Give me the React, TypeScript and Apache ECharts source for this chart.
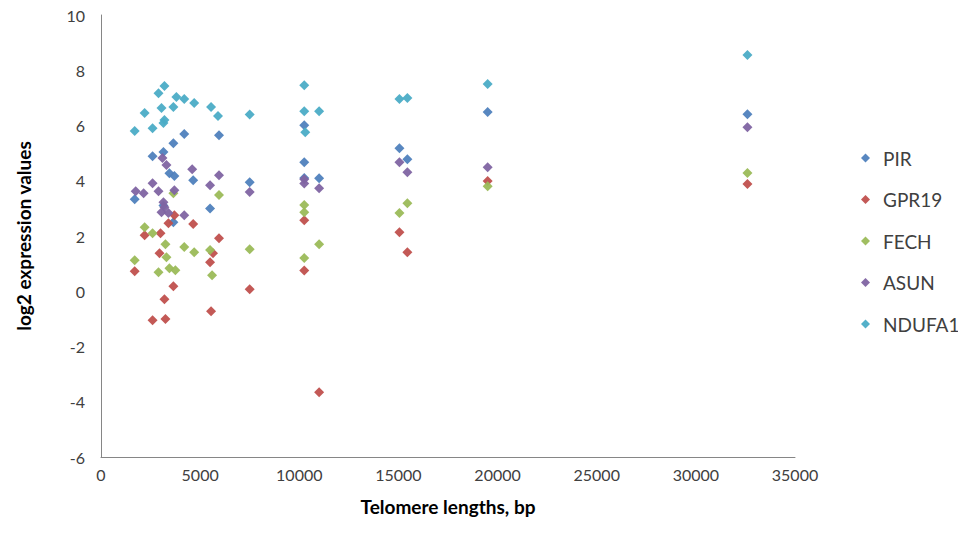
import React, { useEffect, useRef } from "react";
import * as echarts from "echarts";

const seriesNames = ["PIR", "GPR19", "FECH", "ASUN", "NDUFA1"];
const colors = ["#4F81BD", "#C0504D", "#9BBB59", "#8064A2", "#4BACC6"];

const pir: [number, number][] = [
  [1700, 3.33], [2600, 4.89], [3150, 5.04], [3150, 3.1], [3450, 4.27], [3650, 5.36],
  [3700, 4.17], [3650, 2.5], [4200, 5.69], [4650, 4.02], [5500, 3.0], [5950, 5.65],
  [7500, 3.95], [10250, 6.01], [10250, 4.67], [10250, 4.1], [11000, 4.09], [15050, 5.18],
  [15450, 4.78], [19500, 6.49], [32600, 6.41],
];
const gpr19: [number, number][] = [
  [1700, 0.72], [2200, 2.03], [2600, -1.05], [3000, 2.1], [2950, 1.38], [3200, -0.29],
  [3250, -1.0], [3400, 2.46], [3650, 0.18], [3700, 2.75], [4650, 2.43], [5550, -0.72],
  [5500, 1.05], [5650, 1.38], [5950, 1.92], [7500, 0.07], [10250, 2.57], [10250, 0.75],
  [11000, -3.66], [15050, 2.14], [15450, 1.41], [19500, 3.99], [32600, 3.88],
];
const fech: [number, number][] = [
  [1700, 1.12], [2200, 2.32], [2600, 2.1], [2900, 0.69], [3250, 1.7], [3300, 1.23],
  [3450, 0.83], [3650, 3.55], [3750, 0.76], [4200, 1.6], [4700, 1.41], [5500, 1.49],
  [5600, 0.58], [5950, 3.48], [7500, 1.52], [10250, 3.12], [10250, 2.86], [10250, 1.2],
  [11000, 1.7], [15050, 2.83], [15450, 3.19], [19500, 3.8], [32600, 4.28],
];
const asun: [number, number][] = [
  [1750, 3.62], [2150, 3.55], [2600, 3.91], [2900, 3.62], [3100, 4.82], [3300, 4.57],
  [3150, 3.22], [3200, 3.04], [3050, 2.86], [3400, 2.83], [3700, 3.66], [4200, 2.75],
  [4600, 4.42], [5500, 3.84], [5950, 4.2], [7500, 3.59], [10250, 3.9], [10250, 4.05],
  [11000, 3.73], [15050, 4.67], [15450, 4.31], [19500, 4.49], [32600, 5.94],
];
const ndufa1: [number, number][] = [
  [1700, 5.8], [2200, 6.45], [2600, 5.9], [2900, 7.17], [3050, 6.63], [3200, 7.43],
  [3200, 6.2], [3150, 6.09], [3650, 6.67], [3800, 7.03], [4200, 6.96], [4700, 6.81],
  [5550, 6.67], [5900, 6.34], [7500, 6.4], [10250, 7.46], [10250, 6.52], [10300, 5.76],
  [11000, 6.52], [15050, 6.96], [15450, 7.0], [19500, 7.5], [32600, 8.55],
];
const allData = [pir, gpr19, fech, asun, ndufa1];

const xAxisTitle = "Telomere lengths, bp";
const yAxisTitle = "log2 expression values";

const FONT = "Lato, 'Open Sans', sans-serif";

export default function App() {
  const ref = useRef<HTMLDivElement>(null);
  useEffect(() => {
    if (!ref.current) return;
    const chart = echarts.init(ref.current, undefined, { renderer: "svg" });
    chart.setOption({
      animation: false,
      backgroundColor: "#ffffff",
      grid: { left: 101, right: 171, top: 15, bottom: 93, containLabel: false },
      xAxis: {
        type: "value",
        min: 0,
        max: 35000,
        interval: 5000,
        name: xAxisTitle,
        nameLocation: "middle",
        nameGap: 40,
        nameTextStyle: { fontFamily: FONT, fontSize: 19, fontWeight: "bold", color: "#000000" },
        axisLine: { show: true, onZero: false, lineStyle: { color: "#868686", width: 1 } },
        axisTick: { show: false },
        splitLine: { show: false },
        axisLabel: { fontFamily: FONT, fontSize: 16, color: "#404040", margin: 9, formatter: (v: number) => String(v) },
      },
      yAxis: {
        type: "value",
        min: -6,
        max: 10,
        interval: 2,
        name: yAxisTitle,
        nameLocation: "middle",
        nameGap: 68,
        nameRotate: 90,
        nameTextStyle: { fontFamily: FONT, fontSize: 19, fontWeight: "bold", color: "#000000" },
        axisLine: { show: true, onZero: false, lineStyle: { color: "#868686", width: 1 } },
        axisTick: { show: false },
        splitLine: { show: false },
        axisLabel: { fontFamily: FONT, fontSize: 16, color: "#404040", margin: 16 },
      },
      legend: {
        orient: "vertical",
        left: 856,
        top: 143,
        itemWidth: 9,
        itemHeight: 9,
        itemGap: 21.5,
        icon: "diamond",
        textStyle: { fontFamily: FONT, fontSize: 19, color: "#404040", lineHeight: 20, padding: [0, 0, 0, 8] },
        data: seriesNames,
      },
      series: seriesNames.map((name, i) => ({
        name,
        type: "scatter",
        symbol: "diamond",
        symbolSize: 10,
        itemStyle: { color: colors[i], opacity: 0.95 },
        data: allData[i],
      })),
    });
    return () => chart.dispose();
  }, []);
  return <div ref={ref} style={{ width: 966, height: 550, margin: -8 }} />;
}
